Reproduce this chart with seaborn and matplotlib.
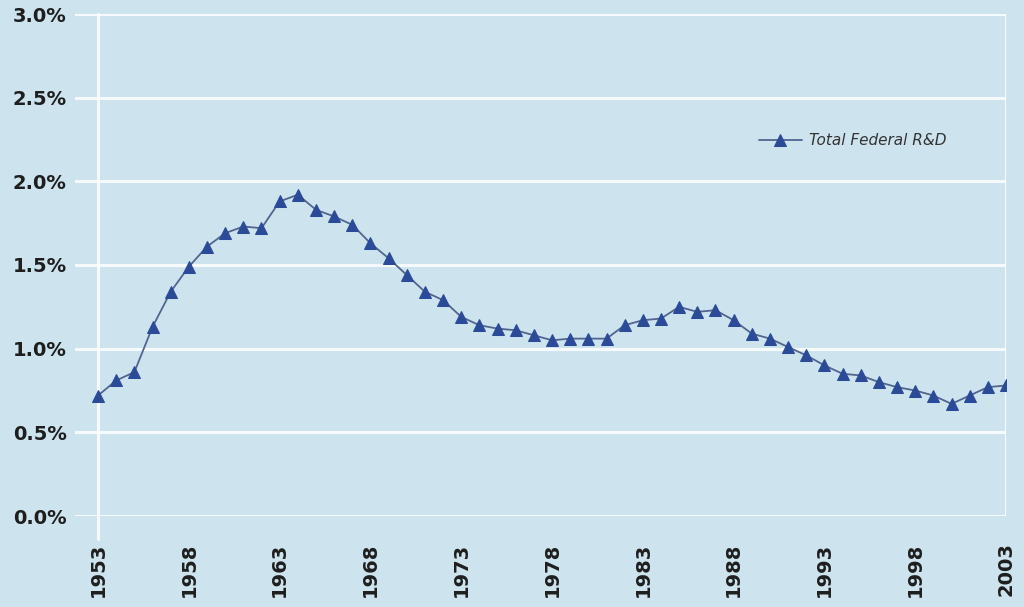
import matplotlib
matplotlib.use("Agg")
import matplotlib.pyplot as plt
import seaborn as sns
import pandas as pd
from matplotlib.ticker import FixedLocator

years = list(range(1953, 2004))
federal_rd = [0.72, 0.81, 0.86, 1.13, 1.34, 1.49, 1.61, 1.69, 1.73, 1.72,
              1.88, 1.92, 1.83, 1.79, 1.74, 1.63, 1.54, 1.44, 1.34, 1.29,
              1.19, 1.14, 1.12, 1.11, 1.08, 1.05, 1.06, 1.06, 1.06, 1.14,
              1.17, 1.18, 1.25, 1.22, 1.23, 1.17, 1.09, 1.06, 1.01, 0.96,
              0.90, 0.85, 0.84, 0.80, 0.77, 0.75, 0.72, 0.67, 0.72, 0.77,
              0.78]
series_name = "Total Federal R&D"
y_ticks = [0.0, 0.5, 1.0, 1.5, 2.0, 2.5, 3.0]
y_tick_labels = ["0.0%", "0.5%", "1.0%", "1.5%", "2.0%", "2.5%", "3.0%"]
x_ticks = [1953, 1958, 1963, 1968, 1973, 1978, 1983, 1988, 1993, 1998, 2003]

df = pd.DataFrame({"Year": years, "Value": federal_rd, "Series": series_name})

BG = "#cde4ef"
sns.set_theme(style="white")
plt.rcParams["font.family"] = ["DejaVu Sans"]

fig = plt.figure(figsize=(10.24, 6.07), dpi=100, facecolor=BG)
ax = fig.add_axes([75 / 1024, 1 - 516 / 607, (1006 - 75) / 1024, (516 - 14) / 607])
ax.set_facecolor(BG)

sns.lineplot(data=df, x="Year", y="Value", hue="Series", ax=ax,
             palette=["#2b4b98"], marker="^", markersize=8.5,
             markeredgecolor="#2b4b98", linewidth=1.3, legend=True)
for ln in ax.lines:
    ln.set_color("#51658f")
    ln.set_markerfacecolor("#2b4b98")
    ln.set_markeredgecolor("#2b4b98")

ax.set_xlim(1951.73, 2003)
ax.set_ylim(0, 3.0)
ax.yaxis.set_major_locator(FixedLocator(y_ticks))
ax.set_yticklabels(y_tick_labels)
ax.set_xticks(x_ticks)
ax.set_xticklabels([str(x) for x in x_ticks], rotation=90, va="top", ha="center")

ax.grid(axis="y", color="white", linewidth=2.2, alpha=0.85)
ax.set_axisbelow(True)
ax.axvline(1953, ymin=-0.045, ymax=1, color="white", linewidth=2.2, alpha=0.85,
           zorder=0.5, clip_on=False)
ax.axvline(2003, color="white", linewidth=2.2, alpha=0.85, zorder=0.5)
for s in ax.spines.values():
    s.set_visible(False)

ax.tick_params(axis="y", length=0, pad=6, labelsize=14, labelcolor="#1e1e1e")
ax.tick_params(axis="x", length=0, pad=19, labelsize=14, labelcolor="#1e1e1e")
for lab in ax.get_yticklabels() + ax.get_xticklabels():
    lab.set_fontweight("bold")

ax.set_xlabel("")
ax.set_ylabel("")

leg = ax.legend(loc="upper left", bbox_to_anchor=(0.72, 0.79), frameon=False,
                handlelength=2.8, handletextpad=0.5, prop={"size": 11, "style": "italic"})
for t in leg.get_texts():
    t.set_color("#333333")

fig.savefig("out.png", dpi=100, facecolor=BG)
